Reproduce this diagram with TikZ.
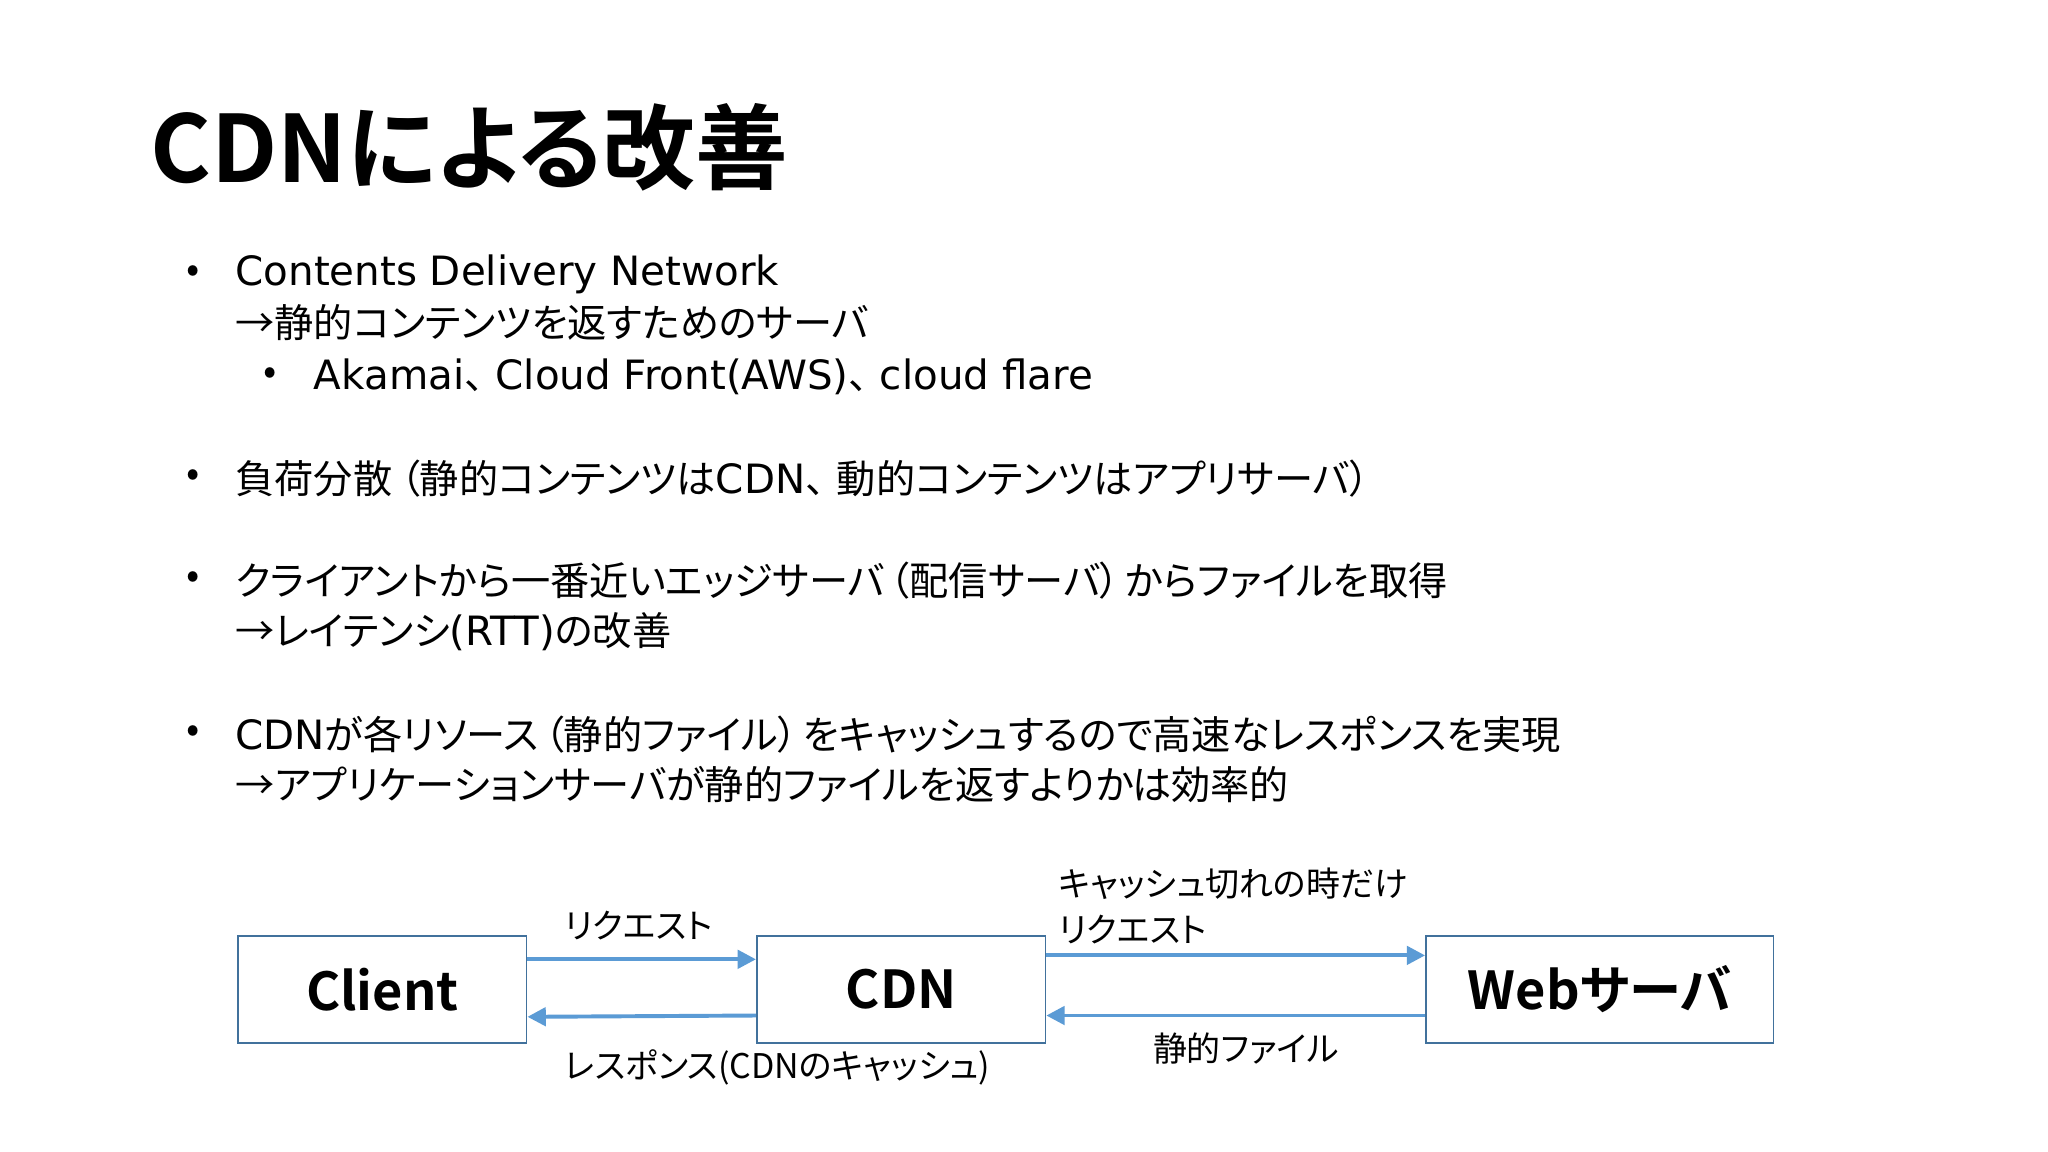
\documentclass[tikz,border=0pt]{standalone}
\usepackage{fontspec}
\setmainfont{Noto Sans CJK JP}[RawFeature=+palt]
\newfontfamily\jpb{Noto Sans CJK JP Bold}[RawFeature=+palt]
\newfontfamily\jpn{Noto Sans CJK JP}
\newfontfamily\lat{DejaVu Sans}[Scale=1.03]
\newcommand{\tten}{{\jpn 、}\hspace{-6pt}}
\usetikzlibrary{arrows.meta}
\definecolor{arr}{HTML}{5B9BD5}
\definecolor{bx}{HTML}{41719C}
\tikzset{
 txt/.style={anchor=west,inner sep=0pt,font=\fontsize{30}{36}\selectfont},
 bul/.style={inner sep=0pt,font=\fontsize{30}{36}\selectfont},
 lab/.style={anchor=west,inner sep=0pt,font=\fontsize{26}{30}\selectfont},
 box/.style={draw=bx,line width=1.2pt,minimum height=82pt,inner sep=0pt,font=\jpb\fontsize{40}{44}\selectfont},
 conn/.style={draw=arr,line width=3pt,-{Triangle[length=14pt,width=14pt]}}
}
\begin{document}
\begin{tikzpicture}[x=1pt,y=-1pt]
\useasboundingbox (0,0) rectangle (1567,881.4);
\fill[white] (0,0) rectangle (1567,881.4);
\node[anchor=west,inner sep=0pt,font=\jpb\fontsize{71}{80}\selectfont] (title) at (115,113) {CDNによる改善};
\node[bul] (b1) at (148,210) {•};
\node[txt] (t1) at (180,210) {\lat Contents Delivery Network};
\node[txt] (t2) at (180,247) {→静的コンテンツを返すためのサーバ};
\node[bul] (b2) at (207,288) {•};
\node[txt] (t3) at (240,288) {{\lat Akamai}\tten{\lat Cloud Front(AWS)}\tten{\lat cloud flare}};
\node[bul] (b3) at (148,366) {•};
\node[txt] (t4) at (180,366) {負荷分散\hspace{6pt}（静的コンテンツは{\lat CDN}\tten 動的コンテンツはアプリサーバ）};
\node[bul] (b4) at (148,444) {•};
\node[txt] (t5) at (180,444) {クライアントから一番近いエッジサーバ\hspace{4pt}（配信サーバ）\hspace{4pt}からファイルを取得};
\node[txt] (t6) at (180,483) {→レイテンシ{\lat (RTT)}の改善};
\node[bul] (b5) at (148,562) {•};
\node[txt] (t7) at (180,562) {{\lat CDN}が各リソース\hspace{4pt}（静的ファイル）\hspace{4pt}をキャッシュするので高速なレスポンスを実現};
\node[txt] (t8) at (180,600) {→アプリケーションサーバが静的ファイルを返すよりかは効率的};
\node[box,minimum width=221pt] (client) at (292.5,757) {Client};
\node[box,minimum width=221pt] (cdn) at (689.5,757) {CDN};
\node[box,minimum width=266pt] (web) at (1224,757) {Webサーバ};
\draw[conn] (client.east|-0,734) -- (cdn.west|-0,734);
\draw[conn] (cdn.west|-0,777) -- (client.east|-0,778);
\draw[conn] (cdn.east|-0,731) -- (web.west|-0,731);
\draw[conn] (web.west|-0,777) -- (cdn.east|-0,777);
\node[lab] (l1) at (432,708) {リクエスト};
\node[lab] (l2) at (810,676) {キャッシュ切れの時だけ};
\node[lab] (l3) at (810,711) {リクエスト};
\node[lab] (l4) at (882,802) {静的ファイル};
\node[lab] (l5) at (432,817) {レスポンス(CDNのキャッシュ)};
\end{tikzpicture}
\end{document}
